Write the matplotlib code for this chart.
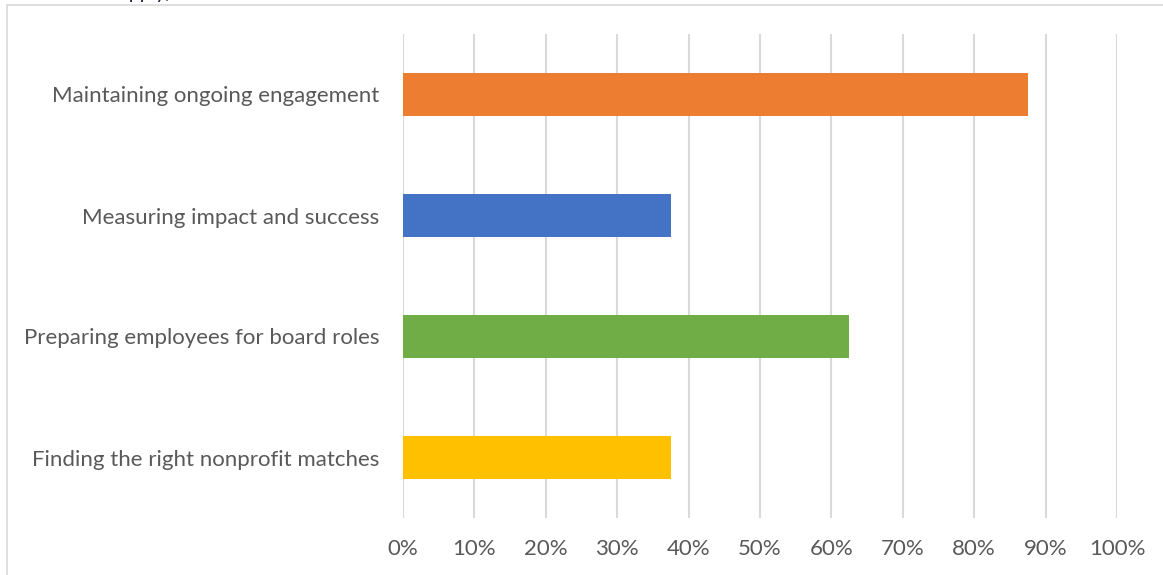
import matplotlib.pyplot as plt
from matplotlib.patches import Rectangle
from matplotlib.ticker import PercentFormatter

# data, listed bottom to top as in the chart
categories = [
    "Finding the right nonprofit matches",
    "Preparing employees for board roles",
    "Measuring impact and success",
    "Maintaining ongoing engagement",
]
shares = [0.375, 0.625, 0.375, 0.875]
bar_colors = ["#FFC000", "#70AD47", "#4472C4", "#ED7D31"]
x_ticks = [i / 10 for i in range(11)]

plt.rcParams['font.family'] = ['Lato', 'DejaVu Sans']

fig = plt.figure(figsize=(11.63, 5.75), dpi=100)
ax = fig.add_axes([403 / 1163, 1 - 518 / 575, 714 / 1163, 484 / 575])

ax.barh(range(len(categories)), shares, height=0.35, color=bar_colors, zorder=3)

ax.set_xlim(0, 1)
ax.set_ylim(-0.5, len(categories) - 0.5)
ax.set_xticks(x_ticks)
ax.xaxis.set_major_formatter(PercentFormatter(1.0, decimals=0))
ax.set_yticks(range(len(categories)))
ax.set_yticklabels(categories)
ax.grid(axis='x', color='#D9D9D9', linewidth=1.5, zorder=0)
ax.tick_params(axis='both', length=0, labelsize=16, labelcolor='#595959')
ax.tick_params(axis='x', pad=15)
ax.tick_params(axis='y', pad=17)
for s in ax.spines.values():
    s.set_visible(False)

# outer chart frame, partly cut off by the picture edge
fig.patches.append(Rectangle((7 / 1163, -0.1), 1.2, 1.1 - 5 / 575,
                             transform=fig.transFigure, fill=False,
                             edgecolor='#D9D9D9', linewidth=1.2))

# bottom of the question text above the chart, mostly cut off
fig.text(172 / 1163, 1 + 2 / 575, "that apply)", ha='right', va='baseline',
         style='italic', fontsize=15, color='#1F1F3A')

fig.savefig("out.png", dpi=100)
